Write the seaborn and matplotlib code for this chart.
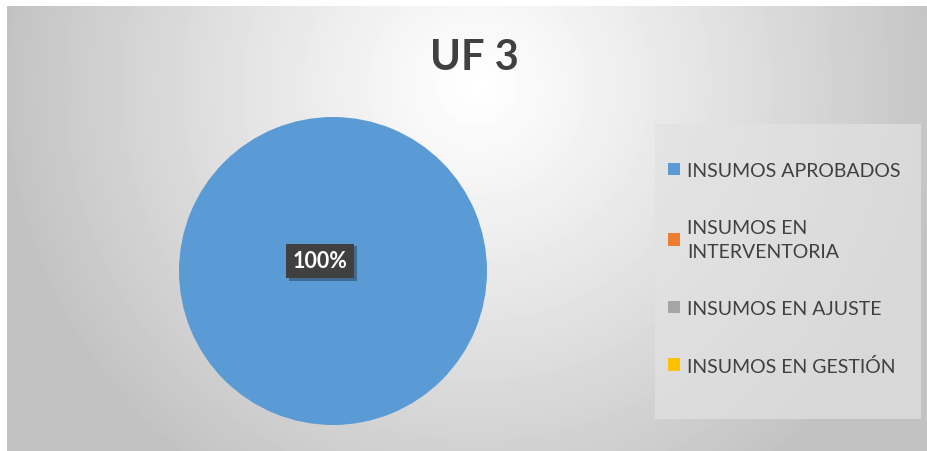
import numpy as np
import matplotlib
matplotlib.use("Agg")
import matplotlib.pyplot as plt
import matplotlib.patheffects as pe
from matplotlib.patches import Patch, Rectangle
import seaborn as sns

# data
title = "UF 3"
categories = ["INSUMOS APROBADOS", "INSUMOS EN\nINTERVENTORIA",
              "INSUMOS EN AJUSTE", "INSUMOS EN GESTIÓN"]
values = [100, 0, 0, 0]
colors = ["#5B9BD5", "#ED7D31", "#A5A5A5", "#FFC000"]

sns.set_theme(style="white")
plt.rcParams["font.family"] = ["Lato", "DejaVu Sans"]

W, H = 927, 452
fig = plt.figure(figsize=(W / 100, H / 100), dpi=100)
fig.patch.set_facecolor("white")

# chart area background: radial gradient, light at the top middle
bg = fig.add_axes([7 / W, 0, 1 - 7 / W, 1 - 7 / H])
yy, xx = np.mgrid[0:445, 0:920]
d = np.sqrt((xx - 470) ** 2 + (yy - 80) ** 2)
shade = 1.0 - 0.235 * np.clip(d / 470, 0, 1) ** 1.1
bg.imshow(shade, cmap="gray", vmin=0, vmax=1, aspect="auto", interpolation="bilinear")
bg.axis("off")

# pie
ax = fig.add_axes([179 / W, 26 / H, 308 / W, 308 / H])
wedges, texts, autotexts = ax.pie(
    values, colors=colors, startangle=90, counterclock=False,
    autopct=lambda p: f"{p:.0f}%" if p > 0 else "", pctdistance=0.0,
    wedgeprops=dict(linewidth=0),
)
ax.set_xlim(-1, 1)
ax.set_ylim(-1, 1)
ax.set_aspect("equal")
for t in autotexts:
    if t.get_text():
        t.set_position((-0.084, 0.065))
        t.set_color("white")
        t.set_fontsize(15.5)
        t.set_fontweight("bold")
        t.set_bbox(dict(boxstyle="square,pad=0.32", facecolor="#404040", edgecolor="none"))
        t.get_bbox_patch().set_path_effects(
            [pe.SimplePatchShadow(offset=(2, -2), alpha=0.35), pe.Normal()])

fig.text(474 / W, 1 - 58 / H, title, ha="center", va="center",
         fontsize=30, fontweight="bold", color="#404040")

# legend box
fig.patches.append(Rectangle((655 / W, 1 - 420 / H), 266 / W, 295 / H,
                             transform=fig.transFigure, facecolor="#e2e2e2",
                             alpha=0.7, edgecolor="none", zorder=1))

# legend
handles = [Patch(facecolor=c, edgecolor="none") for c in colors]
leg = fig.legend(handles, categories, loc="upper left",
                 bbox_to_anchor=(668 / W, 1 - 163 / H),
                 frameon=False, fontsize=14,
                 labelcolor="#404040", handlelength=0.62, handleheight=0.62,
                 handletextpad=0.36, labelspacing=2.05, borderpad=0,
                 borderaxespad=0)
leg.get_texts()[1].set_linespacing(1.5)

fig.savefig("out.png", dpi=100)
